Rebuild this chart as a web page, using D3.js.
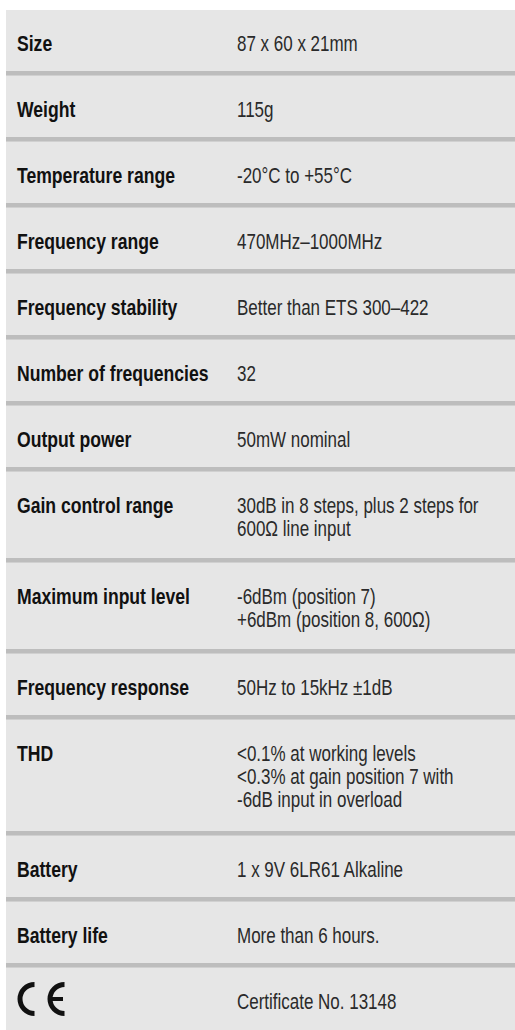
<!DOCTYPE html>
<html>
<head>
<meta charset="utf-8">
<script src="https://cdn.jsdelivr.net/npm/d3@7"></script>
<style>
  html, body { margin: 0; padding: 0; background: #ffffff; }
  svg { display: block; }
</style>
</head>
<body>
<svg id="chart" width="515" height="1030"></svg>
<script>
// ---- data ----
const labels = [
  "Size", "Weight", "Temperature range", "Frequency range", "Frequency stability",
  "Number of frequencies", "Output power", "Gain control range", "Maximum input level",
  "Frequency response", "THD", "Battery", "Battery life", "CE"
];
const values = [
  ["87 x 60 x 21mm"],
  ["115g"],
  ["-20°C to +55°C"],
  ["470MHz–1000MHz"],
  ["Better than ETS 300–422"],
  ["32"],
  ["50mW nominal"],
  ["30dB in 8 steps, plus 2 steps for", "600Ω line input"],
  ["-6dBm (position 7)", "+6dBm (position 8, 600Ω)"],
  ["50Hz to 15kHz ±1dB"],
  ["<0.1% at working levels", "<0.3% at gain position 7 with", "-6dB input in overload"],
  ["1 x 9V 6LR61 Alkaline"],
  ["More than 6 hours."],
  ["Certificate No. 13148"]
];

(function () {
  // ---- layout ----
  const W = 515, H = 1030;
  const tLeft = 6, tTop = 10;
  const baseRow = 61, lineStep = 25, sepH = 5;
  const labelX = 17, valueX = 237;
  const firstBaseline = 40.5, lineGap = 23.5;

  const svg = d3.select("#chart");

  const rows = [];
  let y = tTop;
  labels.forEach((lab, i) => {
    const n = values[i].length;
    const isLast = i === labels.length - 1;
    const h = isLast ? (H - y) : baseRow + (n - 1) * lineStep;
    rows.push({ label: lab, lines: values[i], y: y, h: h, last: isLast });
    y += h + (isLast ? 0 : sepH);
  });

  svg.append("rect")
    .attr("x", tLeft).attr("y", tTop)
    .attr("width", W - tLeft).attr("height", H - tTop)
    .attr("fill", "#e6e6e6");

  const g = svg.selectAll("g.row").data(rows).join("g").attr("class", "row");

  g.filter(d => !d.last).append("rect")
    .attr("x", tLeft).attr("y", d => d.y + d.h)
    .attr("width", W - tLeft).attr("height", 4)
    .attr("fill", "#bdbdbd");
  g.filter(d => !d.last).append("rect")
    .attr("x", tLeft).attr("y", d => d.y + d.h + 4)
    .attr("width", W - tLeft).attr("height", 1)
    .attr("fill", "#d0d0d0");

  g.filter(d => d.label !== "CE").append("text")
    .attr("transform", d => `translate(${labelX},${d.y + firstBaseline}) scale(0.8,1)`)
    .attr("font-family", "'Liberation Sans', Arial, sans-serif")
    .attr("font-weight", "bold")
    .attr("font-size", 22)
    .attr("fill", "#111111")
    .text(d => d.label);

  const ceRow = rows.find(d => d.label === "CE");
  const arc = d3.arc().innerRadius(12).outerRadius(17).startAngle(Math.PI).endAngle(2 * Math.PI);
  const ceCy = ceRow.y + 31;
  svg.append("path").attr("d", arc()).attr("transform", `translate(34.5,${ceCy})`).attr("fill", "#111");
  svg.append("path").attr("d", arc()).attr("transform", `translate(64.5,${ceCy})`).attr("fill", "#111");
  svg.append("rect").attr("x", 49).attr("y", ceCy - 2).attr("width", 14).attr("height", 4).attr("fill", "#111");

  g.each(function (d) {
    const t = d3.select(this).append("text")
      .attr("transform", `translate(${valueX},${d.y + firstBaseline}) scale(0.79,1)`)
      .attr("font-family", "'Liberation Sans', Arial, sans-serif")
      .attr("font-size", 21.5)
      .attr("fill", "#2a2a2a");
    t.selectAll("tspan").data(d.lines).join("tspan")
      .attr("x", 0)
      .attr("y", (s, j) => j * lineGap)
      .text(s => s);
  });
})();
</script>
</body>
</html>
